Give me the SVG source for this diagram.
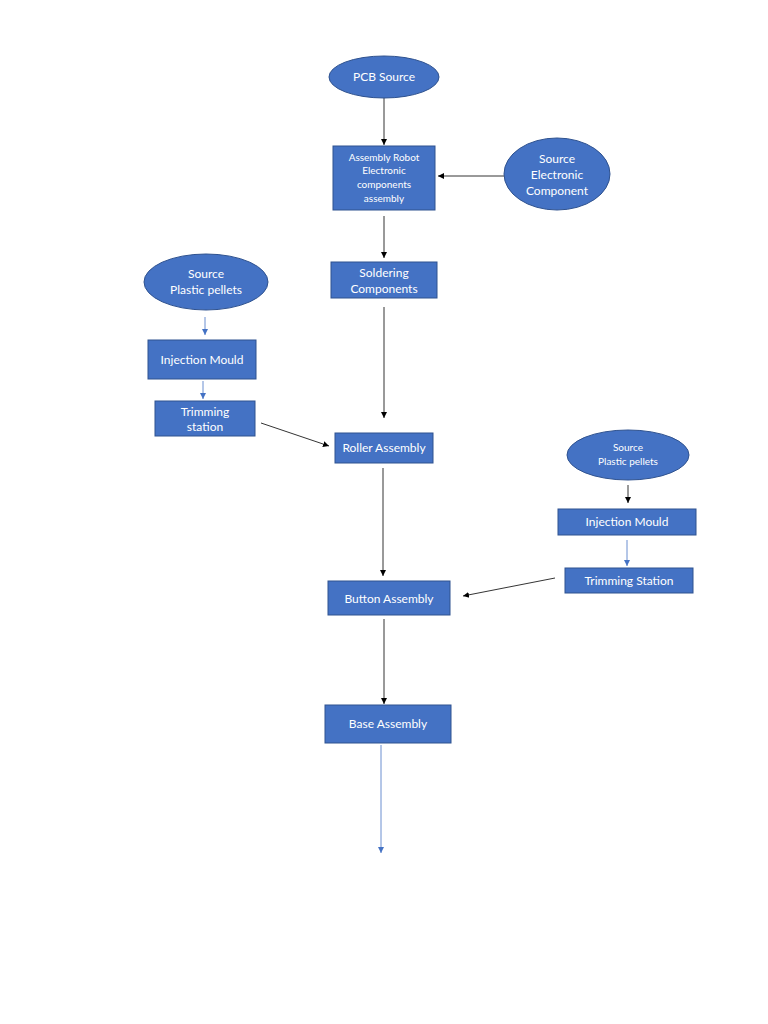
<svg xmlns="http://www.w3.org/2000/svg" width="768" height="1024" viewBox="0 0 768 1024">
<style>
.n{fill:#4472C4;stroke:#2F528F;stroke-width:1}
.t{font-family:Lato,"Liberation Sans",sans-serif;fill:#FFFFFF;text-anchor:middle;font-size:12px}
.s{font-size:10px}
.k{stroke:#000;stroke-width:0.8;fill:none}
.b{stroke:#4472C4;stroke-width:0.8;fill:none}
</style>
<defs>
<marker id="ak" markerWidth="8" markerHeight="8" refX="6" refY="4" orient="auto" markerUnits="userSpaceOnUse"><path d="M0,1 L6,4 L0,7 Z" fill="#000"/></marker>
<marker id="ab" markerWidth="8" markerHeight="8" refX="6" refY="4" orient="auto" markerUnits="userSpaceOnUse"><path d="M0,1 L6,4 L0,7 Z" fill="#4472C4"/></marker>
</defs>
<rect width="768" height="1024" fill="#fff"/>
<g id="connectors">
<line class="k" x1="384" y1="98" x2="384" y2="145" marker-end="url(#ak)"/>
<line class="k" x1="504" y1="176" x2="438" y2="176" marker-end="url(#ak)"/>
<line class="k" x1="384" y1="216" x2="384" y2="258" marker-end="url(#ak)"/>
<line class="k" x1="384" y1="307" x2="384" y2="418" marker-end="url(#ak)"/>
<line class="k" x1="383" y1="468" x2="383" y2="576" marker-end="url(#ak)"/>
<line class="k" x1="384" y1="619" x2="384" y2="704" marker-end="url(#ak)"/>
<line class="b" x1="381" y1="745" x2="381" y2="853" marker-end="url(#ab)"/>
<line class="b" x1="205" y1="317" x2="205" y2="335" marker-end="url(#ab)"/>
<line class="b" x1="203" y1="381" x2="203" y2="399" marker-end="url(#ab)"/>
<line class="k" x1="261" y1="423" x2="329" y2="446" marker-end="url(#ak)"/>
<line class="k" x1="628" y1="485" x2="628" y2="503" marker-end="url(#ak)"/>
<line class="b" x1="627" y1="540" x2="627" y2="566" marker-end="url(#ab)"/>
<line class="k" x1="555" y1="578" x2="463" y2="596" marker-end="url(#ak)"/>
</g>
<g id="pcb-source"><ellipse class="n" cx="384" cy="77" rx="55" ry="21"/><text class="t" x="384" y="81">PCB Source</text></g>
<g id="assembly-robot"><rect class="n" x="333" y="146" width="102" height="64"/>
<text class="t s" x="384" y="161">Assembly Robot</text><text class="t s" x="384" y="174">Electronic</text><text class="t s" x="384" y="188">components</text><text class="t s" x="384" y="202">assembly</text></g>
<g id="source-electronic"><ellipse class="n" cx="557" cy="174" rx="53" ry="36"/>
<text class="t" x="557" y="163">Source</text><text class="t" x="557" y="179">Electronic</text><text class="t" x="557" y="195">Component</text></g>
<g id="soldering"><rect class="n" x="331" y="262" width="106" height="36"/>
<text class="t" x="384" y="277">Soldering</text><text class="t" x="384" y="293">Components</text></g>
<g id="source-plastic-left"><ellipse class="n" cx="206" cy="282" rx="62" ry="28"/>
<text class="t" x="206" y="278">Source</text><text class="t" x="206" y="294">Plastic pellets</text></g>
<g id="injection-left"><rect class="n" x="148" y="340" width="108" height="39"/><text class="t" x="202" y="364">Injection Mould</text></g>
<g id="trimming-left"><rect class="n" x="155" y="401" width="100" height="35"/>
<text class="t" x="205" y="416">Trimming</text><text class="t" x="205" y="431">station</text></g>
<g id="roller"><rect class="n" x="335" y="433" width="98" height="30"/><text class="t" x="384" y="452">Roller Assembly</text></g>
<g id="source-plastic-right"><ellipse class="n" cx="628" cy="455" rx="61" ry="25"/>
<text class="t s" x="628" y="451">Source</text><text class="t s" x="628" y="465">Plastic pellets</text></g>
<g id="injection-right"><rect class="n" x="558" y="509" width="138" height="26"/><text class="t" x="627" y="526">Injection Mould</text></g>
<g id="trimming-right"><rect class="n" x="565" y="568" width="128" height="25"/><text class="t" x="629" y="585">Trimming Station</text></g>
<g id="button"><rect class="n" x="328" y="581" width="122" height="34"/><text class="t" x="389" y="603">Button Assembly</text></g>
<g id="base"><rect class="n" x="325" y="705" width="126" height="38"/><text class="t" x="388" y="728">Base Assembly</text></g>
</svg>
